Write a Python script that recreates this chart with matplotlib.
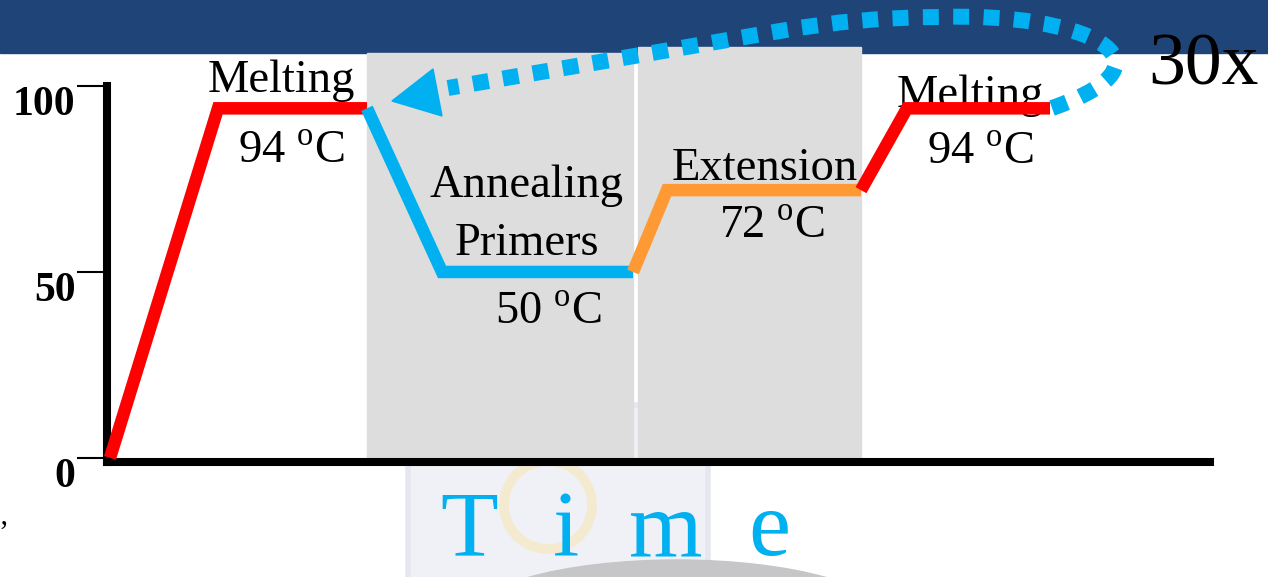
import matplotlib.pyplot as plt
from matplotlib.patches import Rectangle, Ellipse, Circle, Polygon, PathPatch
from matplotlib.path import Path

plt.rcParams["font.family"] = ["Liberation Serif", "DejaVu Serif"]
plt.rcParams["mathtext.fontset"] = "custom"
plt.rcParams["mathtext.rm"] = "Liberation Serif"

# one PCR cycle: temperature (deg C) against time (arbitrary units)
stage_temps = [94, 50, 72, 94]
ramp_start = [0.3, 26.0, 52.6, 75.4]
plateau_start = [11.1, 33.5, 56.0, 80.0]
plateau_end = [26.0, 52.6, 75.4, 94.3]
stage_colors = ["#ff0000", "#00b0f0", "#ff9933", "#ff0000"]
shaded_spans = [(26.0, 52.6, 108.9), (53.1, 75.4, 110.5)]
yticks = [0, 50, 100]

BLUE = "#00b0f0"
fig = plt.figure(figsize=(12.68, 5.77), dpi=100)

# slide backdrop in pixel units
bg = fig.add_axes([0, 0, 1, 1], zorder=0)
bg.set_xlim(0, 1268)
bg.set_ylim(577, 0)
bg.axis("off")
bg.add_patch(Rectangle((0, 0), 1268, 53, color="#1f4478"))
bg.add_patch(Rectangle((408, 405), 300, 175, fc="#f0f0f7", ec="#e6e6f0", lw=4))
bg.add_patch(Circle((548, 505), 44, fill=False, ec="#f4ead0", lw=7))
bg.add_patch(Ellipse((677, 620), 422, 120, color="#c6c6c9"))
bg.text(-2, 542, "\u2019", fontsize=22, ha="left", va="baseline")

ax = fig.add_axes([107 / 1268, 1 - 462 / 577, 1103 / 1268, 376 / 577], zorder=1)
ax.patch.set_visible(False)
ax.set_xlim(0, 110.3)
ax.set_ylim(-1.1, 100)

for x0, x1, top in shaded_spans:
    ax.add_patch(Rectangle((x0, -1.1), x1 - x0, top + 1.1, color="#dddddd",
                           clip_on=False, zorder=0))

prev = 0
for t0, t1, t2, temp, c in zip(ramp_start, plateau_start, plateau_end,
                               stage_temps, stage_colors):
    ax.plot([t0, t1, t2], [prev, temp, temp], color=c, lw=9,
            solid_joinstyle="miter", solid_capstyle="butt", clip_on=False,
            zorder=3)
    prev = temp

fs = 33.5
ax.text(17.4, 98.4, "Melting", fontsize=fs, ha="center", zorder=1)
ax.text(18.4, 79.3, r"94 $^{\mathrm{o}}$C", fontsize=fs, ha="center")
ax.text(42.0, 70.2, "Annealing", fontsize=fs, ha="center")
ax.text(42.0, 54.6, "Primers", fontsize=fs, ha="center")
ax.text(44.1, 35.8, r"50 $^{\mathrm{o}}$C", fontsize=fs, ha="center")
ax.text(65.8, 74.7, "Extension", fontsize=fs, ha="center", zorder=1)
ax.text(66.5, 59.1, r"72 $^{\mathrm{o}}$C", fontsize=fs, ha="center")
ax.text(86.3, 94.4, "Melting", fontsize=fs, ha="center", zorder=1)
ax.text(87.3, 78.8, r"94 $^{\mathrm{o}}$C", fontsize=fs, ha="center")
ax.text(109.6, 100.3, "30x", fontsize=53, ha="center", clip_on=False)

for letter, x in zip("Time", [36.2, 45.9, 55.9, 66.2]):
    ax.text(x, -31.6, letter, fontsize=68, color=BLUE, ha="center",
            va="bottom", clip_on=False)

# cycle-back arrow
verts = [(1052, 108), (1190, 60), (1080, 12), (940, 17),
         (860, 17), (780, 31), (448, 88)]
codes = [Path.MOVETO, Path.CURVE4, Path.CURVE4, Path.CURVE4,
         Path.CURVE3, Path.CURVE3, Path.LINETO]
loop = PathPatch(Path(verts, codes), fc="none", ec=BLUE, lw=11.5,
                 ls=(0, (1, 0.9)), capstyle="butt", transform=bg.transData,
                 clip_on=False, zorder=5)
ax.add_patch(loop)
ax.add_patch(Polygon([(392, 101), (433, 69), (442, 116)], color=BLUE,
                     transform=bg.transData, clip_on=False, zorder=5))

for side in ["top", "right"]:
    ax.spines[side].set_visible(False)
for side in ["left", "bottom"]:
    ax.spines[side].set_linewidth(5.8)
ax.set_xticks([])
ax.set_yticks(yticks)
ax.set_yticklabels([str(v) for v in yticks], fontweight="bold", va="top")
ax.tick_params(axis="y", length=21.6, width=1.5, pad=1, labelsize=30)

fig.savefig("out.png", dpi=100)
